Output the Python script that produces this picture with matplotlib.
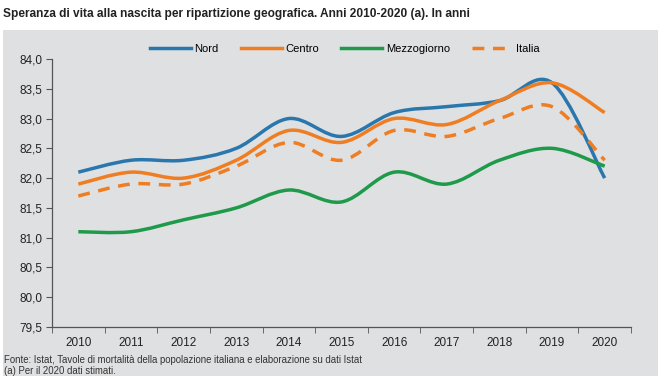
import numpy as np
import matplotlib
matplotlib.use("Agg")
import matplotlib.pyplot as plt
from matplotlib.path import Path
from matplotlib.patches import PathPatch, Rectangle
from matplotlib.lines import Line2D
from matplotlib.ticker import FuncFormatter, FixedLocator

years = ["2010", "2011", "2012", "2013", "2014", "2015", "2016", "2017", "2018", "2019", "2020"]
nord = [82.1, 82.3, 82.3, 82.5, 83.0, 82.7, 83.1, 83.2, 83.3, 83.6, 82.0]
centro = [81.9, 82.1, 82.0, 82.3, 82.8, 82.6, 83.0, 82.9, 83.3, 83.6, 83.1]
mezzogiorno = [81.1, 81.1, 81.3, 81.5, 81.8, 81.6, 82.1, 81.9, 82.3, 82.5, 82.2]
italia = [81.7, 81.9, 81.9, 82.2, 82.6, 82.3, 82.8, 82.7, 83.0, 83.2, 82.3]

FONT = ["Liberation Sans Narrow", "Liberation Sans", "DejaVu Sans"]
plt.rcParams["font.family"] = FONT

BLUE = "#2a77ad"
ORANGE = "#ef7d22"
GREEN = "#1f9a4a"
BG = "#dfe0e2"
AXC = "#555555"


def smooth_path(x, y):
    # Excel-style smoothed line: cubic Bezier through each point
    pts = np.column_stack([x, y]).astype(float)
    n = len(pts)
    verts = [pts[0]]
    codes = [Path.MOVETO]
    for i in range(n - 1):
        p0 = pts[i - 1] if i > 0 else pts[i]
        p1, p2 = pts[i], pts[i + 1]
        p3 = pts[i + 2] if i + 2 < n else pts[i + 1]
        c1 = p1 + (p2 - p0) / 6.0
        c2 = p2 - (p3 - p1) / 6.0
        verts += [c1, c2, p2]
        codes += [Path.CURVE4] * 3
    return Path(verts, codes)


fig = plt.figure(figsize=(6.61, 3.81), dpi=100)
fig.patches.append(Rectangle((3 / 661, 1 - 376 / 381), 655 / 661, 346 / 381,
                             transform=fig.transFigure, facecolor=BG,
                             edgecolor="none", zorder=-1))

ax = fig.add_axes([52 / 661, 1 - 327 / 381, 579 / 661, 268 / 381])
ax.set_facecolor("none")

x = np.arange(len(years))
series = [("Nord", nord, BLUE, "-"),
          ("Centro", centro, ORANGE, "-"),
          ("Mezzogiorno", mezzogiorno, GREEN, "-"),
          ("Italia", italia, ORANGE, (0, (3.4, 2.5)))]

handles = []
for name, vals, col, ls in series:
    patch = PathPatch(smooth_path(x, vals), facecolor="none", edgecolor=col,
                      lw=2.5, linestyle=ls, capstyle="butt", zorder=3)
    ax.add_patch(patch)
    handles.append(Line2D([], [], color=col, lw=2.5, linestyle=ls, label=name))

ax.set_xlim(-0.5, len(years) - 0.5)
ax.set_ylim(79.5, 84.0)
ax.set_yticks(np.arange(79.5, 84.01, 0.5))
ax.yaxis.set_major_formatter(FuncFormatter(lambda v, p: f"{v:.1f}".replace(".", ",")))
ax.set_xticks(x)
ax.set_xticklabels(years)
ax.xaxis.set_minor_locator(FixedLocator(np.arange(-0.5, len(years), 1.0)))
ax.tick_params(axis="x", which="major", length=0, pad=7, labelsize=8.5, colors="#222222")
ax.tick_params(axis="x", which="minor", length=4, color=AXC, direction="out")
ax.tick_params(axis="y", length=4, color=AXC, labelsize=8.5, labelcolor="#222222", pad=3)

for s in ["top", "right"]:
    ax.spines[s].set_visible(False)
for s in ["left", "bottom"]:
    ax.spines[s].set_color(AXC)
    ax.spines[s].set_linewidth(0.9)

fig.legend(handles=handles, loc="center", bbox_to_anchor=(345 / 661, 1 - 49 / 381),
           ncol=4, frameon=False, fontsize=8, handlelength=3.7,
           handletextpad=0.3, columnspacing=2.0, borderpad=0, borderaxespad=0)

fig.text(3 / 661, 1 - 14 / 381,
         "Speranza di vita alla nascita per ripartizione geografica. Anni 2010-2020 (a). In anni",
         fontsize=8.6, fontweight="bold", va="center", ha="left", color="#222222")
fig.text(4 / 661, 1 - 360 / 381,
         "Fonte: Istat, Tavole di mortalità della popolazione italiana e elaborazione su dati Istat",
         fontsize=6.95, va="center", ha="left", color="#333333")
fig.text(4 / 661, 1 - 370.5 / 381, "(a) Per il 2020 dati stimati.",
         fontsize=6.95, va="center", ha="left", color="#333333")

fig.savefig("out.png", dpi=100)
